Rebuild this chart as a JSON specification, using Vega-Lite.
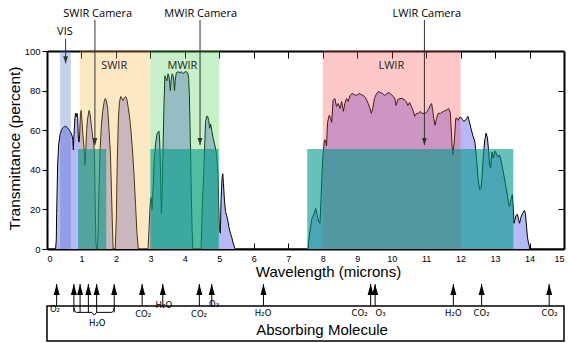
{
  "$schema": "https://vega.github.io/schema/vega-lite/v6.json",
  "autosize": {"type": "none"},
  "padding": {"left": 47, "top": 51, "right": 4, "bottom": 94},
  "width": 517,
  "height": 198,
  "background": "white",
  "config": {
    "view": {"stroke": null},
    "axis": {"domainColor": "black", "tickColor": "black", "labelColor": "black", "titleColor": "black", "labelFont": "Liberation Sans", "titleFont": "Liberation Sans", "titleFontWeight": "normal", "grid": false}
  },
  "datasets": {
    "curve": [
      {"w":0,"t":0},{"w":0.25,"t":0},{"w":0.27,"t":5},{"w":0.28,"t":18},{"w":0.31,"t":43},{"w":0.34,"t":53},{"w":0.38,"t":58},{"w":0.43,"t":60.5},{"w":0.48,"t":61.5},{"w":0.53,"t":62},{"w":0.58,"t":61.5},{"w":0.65,"t":60},{"w":0.70,"t":58.5},{"w":0.73,"t":57},{"w":0.75,"t":55},{"w":0.765,"t":50},{"w":0.775,"t":55},{"w":0.79,"t":60},{"w":0.81,"t":66},{"w":0.83,"t":68.5},{"w":0.85,"t":67},{"w":0.87,"t":68.5},{"w":0.89,"t":66},{"w":0.91,"t":56},{"w":0.93,"t":54},{"w":0.95,"t":58},{"w":0.97,"t":68},{"w":0.99,"t":70},{"w":1.01,"t":66},{"w":1.04,"t":58},{"w":1.07,"t":52},{"w":1.10,"t":42.5},{"w":1.12,"t":48},{"w":1.15,"t":60},{"w":1.18,"t":66},{"w":1.22,"t":70},{"w":1.25,"t":68},{"w":1.29,"t":62},{"w":1.33,"t":56},{"w":1.36,"t":53},{"w":1.38,"t":45},{"w":1.40,"t":20},{"w":1.42,"t":3},{"w":1.44,"t":0},{"w":1.46,"t":0},{"w":1.48,"t":6},{"w":1.50,"t":25},{"w":1.54,"t":50},{"w":1.58,"t":63},{"w":1.62,"t":70},{"w":1.66,"t":74.5},{"w":1.69,"t":76},{"w":1.72,"t":75},{"w":1.76,"t":71},{"w":1.80,"t":60},{"w":1.84,"t":48},{"w":1.87,"t":30},{"w":1.90,"t":10},{"w":1.92,"t":0},{"w":1.98,"t":0},{"w":2.01,"t":15},{"w":2.04,"t":45},{"w":2.07,"t":65},{"w":2.10,"t":74},{"w":2.14,"t":77},{"w":2.18,"t":76},{"w":2.21,"t":75},{"w":2.25,"t":76.5},{"w":2.28,"t":77},{"w":2.32,"t":75.5},{"w":2.36,"t":71},{"w":2.40,"t":66},{"w":2.44,"t":59},{"w":2.48,"t":50},{"w":2.53,"t":36},{"w":2.57,"t":22},{"w":2.61,"t":8},{"w":2.65,"t":0},{"w":2.93,"t":0},{"w":2.96,"t":10},{"w":2.99,"t":22},{"w":3.02,"t":26},{"w":3.05,"t":20},{"w":3.08,"t":32},{"w":3.11,"t":44},{"w":3.15,"t":53},{"w":3.19,"t":58},{"w":3.22,"t":59},{"w":3.25,"t":59.5},{"w":3.27,"t":54},{"w":3.29,"t":42},{"w":3.31,"t":25},{"w":3.32,"t":18},{"w":3.34,"t":28},{"w":3.36,"t":45},{"w":3.39,"t":70},{"w":3.42,"t":87.5},{"w":3.45,"t":86},{"w":3.48,"t":85},{"w":3.51,"t":88.5},{"w":3.54,"t":87},{"w":3.56,"t":84},{"w":3.58,"t":80},{"w":3.60,"t":85},{"w":3.63,"t":88.5},{"w":3.67,"t":87},{"w":3.70,"t":80},{"w":3.72,"t":85},{"w":3.75,"t":89},{"w":3.80,"t":89.5},{"w":3.85,"t":89},{"w":3.90,"t":89.5},{"w":3.95,"t":88.5},{"w":4.00,"t":89.5},{"w":4.05,"t":89.5},{"w":4.09,"t":88.5},{"w":4.11,"t":86},{"w":4.13,"t":78},{"w":4.15,"t":62},{"w":4.17,"t":45},{"w":4.19,"t":25},{"w":4.21,"t":10},{"w":4.23,"t":0},{"w":4.47,"t":0},{"w":4.49,"t":12},{"w":4.51,"t":25},{"w":4.54,"t":34},{"w":4.57,"t":50},{"w":4.60,"t":64},{"w":4.63,"t":67},{"w":4.66,"t":67},{"w":4.69,"t":65},{"w":4.72,"t":61},{"w":4.75,"t":63},{"w":4.78,"t":60},{"w":4.82,"t":56},{"w":4.86,"t":53},{"w":4.90,"t":50},{"w":4.93,"t":46},{"w":4.96,"t":38},{"w":4.98,"t":22},{"w":5.00,"t":10},{"w":5.03,"t":8},{"w":5.05,"t":25},{"w":5.08,"t":36},{"w":5.10,"t":38},{"w":5.12,"t":33},{"w":5.15,"t":24},{"w":5.18,"t":19},{"w":5.21,"t":17},{"w":5.24,"t":15},{"w":5.28,"t":11},{"w":5.32,"t":8},{"w":5.36,"t":6},{"w":5.40,"t":3},{"w":5.44,"t":1},{"w":5.46,"t":0},{"w":7.57,"t":0},{"w":7.62,"t":8},{"w":7.68,"t":15},{"w":7.75,"t":18},{"w":7.80,"t":20.5},{"w":7.84,"t":17},{"w":7.88,"t":14},{"w":7.92,"t":13},{"w":7.95,"t":25},{"w":7.98,"t":38},{"w":8.01,"t":48},{"w":8.05,"t":55},{"w":8.08,"t":55},{"w":8.11,"t":52},{"w":8.14,"t":64},{"w":8.19,"t":67.5},{"w":8.23,"t":66},{"w":8.26,"t":64},{"w":8.30,"t":75},{"w":8.35,"t":76},{"w":8.40,"t":72},{"w":8.45,"t":73.5},{"w":8.50,"t":71},{"w":8.55,"t":74.5},{"w":8.60,"t":69.5},{"w":8.64,"t":73.5},{"w":8.69,"t":76},{"w":8.74,"t":74.5},{"w":8.79,"t":77.5},{"w":8.85,"t":78.5},{"w":8.92,"t":78},{"w":8.99,"t":77.5},{"w":9.05,"t":78.5},{"w":9.12,"t":78},{"w":9.18,"t":77.5},{"w":9.24,"t":76.5},{"w":9.28,"t":75},{"w":9.32,"t":73.5},{"w":9.37,"t":71},{"w":9.41,"t":68.5},{"w":9.45,"t":71},{"w":9.50,"t":76},{"w":9.55,"t":78},{"w":9.61,"t":79.5},{"w":9.68,"t":79},{"w":9.74,"t":78.5},{"w":9.80,"t":77.5},{"w":9.86,"t":78.5},{"w":9.92,"t":79},{"w":9.99,"t":78},{"w":10.05,"t":77},{"w":10.09,"t":76},{"w":10.13,"t":72.5},{"w":10.18,"t":75.5},{"w":10.24,"t":76},{"w":10.30,"t":76},{"w":10.36,"t":75.5},{"w":10.42,"t":74.5},{"w":10.47,"t":72.5},{"w":10.52,"t":74},{"w":10.57,"t":72},{"w":10.63,"t":69.5},{"w":10.67,"t":67},{"w":10.72,"t":68.5},{"w":10.78,"t":68.5},{"w":10.83,"t":69.5},{"w":10.88,"t":68.5},{"w":10.93,"t":68.5},{"w":10.98,"t":68.5},{"w":11.03,"t":69.5},{"w":11.08,"t":71},{"w":11.12,"t":72.5},{"w":11.16,"t":73.5},{"w":11.19,"t":70},{"w":11.22,"t":66},{"w":11.26,"t":62.5},{"w":11.30,"t":66},{"w":11.35,"t":68.5},{"w":11.42,"t":68.5},{"w":11.50,"t":69.5},{"w":11.58,"t":70},{"w":11.65,"t":71},{"w":11.70,"t":69},{"w":11.73,"t":60},{"w":11.75,"t":53},{"w":11.77,"t":47.5},{"w":11.79,"t":50},{"w":11.82,"t":55},{"w":11.86,"t":66},{"w":11.90,"t":66},{"w":11.93,"t":65},{"w":11.97,"t":66.5},{"w":12.01,"t":66.5},{"w":12.05,"t":65.5},{"w":12.09,"t":64.5},{"w":12.14,"t":65},{"w":12.18,"t":66},{"w":12.21,"t":67},{"w":12.25,"t":64.5},{"w":12.30,"t":61},{"w":12.36,"t":57},{"w":12.41,"t":54.5},{"w":12.44,"t":50},{"w":12.47,"t":44},{"w":12.51,"t":35},{"w":12.55,"t":30},{"w":12.59,"t":30.5},{"w":12.62,"t":36},{"w":12.66,"t":47},{"w":12.70,"t":55},{"w":12.74,"t":58.5},{"w":12.78,"t":56},{"w":12.81,"t":50},{"w":12.84,"t":42.5},{"w":12.87,"t":41},{"w":12.91,"t":49},{"w":12.95,"t":46},{"w":13.00,"t":49.5},{"w":13.04,"t":48},{"w":13.08,"t":46.5},{"w":13.13,"t":47.5},{"w":13.17,"t":45},{"w":13.21,"t":41.5},{"w":13.26,"t":37},{"w":13.30,"t":33},{"w":13.35,"t":28},{"w":13.39,"t":23},{"w":13.42,"t":21.5},{"w":13.46,"t":25},{"w":13.50,"t":27.5},{"w":13.53,"t":20},{"w":13.55,"t":13},{"w":13.58,"t":15},{"w":13.61,"t":17},{"w":13.65,"t":17.5},{"w":13.68,"t":15},{"w":13.71,"t":13},{"w":13.75,"t":16},{"w":13.80,"t":18},{"w":13.85,"t":19.5},{"w":13.88,"t":18},{"w":13.91,"t":12},{"w":13.94,"t":6},{"w":13.97,"t":3},{"w":14.01,"t":0},{"w":15,"t":0}
    ],
    "bands": [
      {"band": "VIS", "start": 0.38, "end": 0.69},
      {"band": "SWIR", "start": 0.95, "end": 3.0},
      {"band": "MWIR", "start": 3.0, "end": 5.0},
      {"band": "LWIR", "start": 8.0, "end": 12.0}
    ],
    "bandLabels": [
      {"label": "SWIR", "w": 1.95, "t": 92.4},
      {"label": "MWIR", "w": 3.93, "t": 92.4},
      {"label": "LWIR", "w": 9.99, "t": 92.4}
    ],
    "cameras": [
      {"camera": "SWIR Camera", "start": 0.9, "end": 1.72, "low": 0, "top": 50.5},
      {"camera": "MWIR Camera", "start": 3.0, "end": 4.98, "low": 0, "top": 50.5},
      {"camera": "LWIR Camera", "start": 7.55, "end": 13.53, "low": 0, "top": 50.5}
    ],
    "callouts": [
      {"label": "VIS", "tx": 0.52, "ty": 109.4, "ax": 0.54, "a0": 106.1, "a1": 93.8},
      {"label": "SWIR Camera", "tx": 1.47, "ty": 118.7, "ax": 1.39, "a0": 115.7, "a1": 52.5},
      {"label": "MWIR Camera", "tx": 4.46, "ty": 118.7, "ax": 4.44, "a0": 115.7, "a1": 52.5},
      {"label": "LWIR Camera", "tx": 11.02, "ty": 118.7, "ax": 10.95, "a0": 115.7, "a1": 52.5}
    ],
    "panel": [
      {"label": "Absorbing Molecule", "x0": 0, "x1": 15, "top": -28.8, "bottom": -46.5, "tx": 7.98, "ty": -40.9}
    ],
    "absorbers": [
      {"w": 0.28, "tip": -17.7, "base": -28.8},
      {"w": 0.78, "tip": -17.7, "base": -32.0},
      {"w": 0.96, "tip": -17.7, "base": -32.0},
      {"w": 1.20, "tip": -17.7, "base": -32.0},
      {"w": 1.44, "tip": -17.7, "base": -32.0},
      {"w": 1.95, "tip": -17.7, "base": -32.0},
      {"w": 2.76, "tip": -17.7, "base": -28.8},
      {"w": 3.36, "tip": -17.7, "base": -28.8},
      {"w": 4.42, "tip": -17.7, "base": -28.8},
      {"w": 4.78, "tip": -17.7, "base": -28.8},
      {"w": 6.28, "tip": -17.7, "base": -28.8},
      {"w": 9.39, "tip": -17.7, "base": -28.8},
      {"w": 9.52, "tip": -17.7, "base": -28.8},
      {"w": 11.79, "tip": -17.7, "base": -28.8},
      {"w": 12.61, "tip": -17.7, "base": -28.8},
      {"w": 14.57, "tip": -17.7, "base": -28.8}
    ],
    "brace": [
      {"i": 0, "w": 0.78, "t": -29.6},
      {"i": 1, "w": 0.80, "t": -31.3},
      {"i": 2, "w": 0.85, "t": -32.0},
      {"i": 3, "w": 1.30, "t": -32.0},
      {"i": 4, "w": 1.37, "t": -33.4},
      {"i": 5, "w": 1.44, "t": -32.0},
      {"i": 6, "w": 1.88, "t": -32.0},
      {"i": 7, "w": 1.93, "t": -31.3},
      {"i": 8, "w": 1.95, "t": -29.6}
    ],
    "molecules": [
      {"label": "O₂", "w": 0.23, "t": -30.3},
      {"label": "H₂O", "w": 1.46, "t": -37.5},
      {"label": "CO₂", "w": 2.79, "t": -32.8},
      {"label": "H₂O", "w": 3.39, "t": -28.5},
      {"label": "CO₂", "w": 4.41, "t": -32.8},
      {"label": "O₃", "w": 4.85, "t": -28.0},
      {"label": "H₂O", "w": 6.27, "t": -32.5},
      {"label": "CO₂", "w": 9.07, "t": -32.5},
      {"label": "O₃", "w": 9.68, "t": -32.5},
      {"label": "H₂O", "w": 11.79, "t": -32.5},
      {"label": "CO₂", "w": 12.61, "t": -32.5},
      {"label": "CO₂", "w": 14.58, "t": -32.5}
    ]
  },
  "layer": [
    {
      "data": {"name": "curve"},
      "mark": {"type": "area", "color": "#b8b8f6", "opacity": 1},
      "encoding": {
        "x": {"field": "w", "type": "quantitative", "scale": {"domain": [0, 15], "nice": false, "zero": false},
          "axis": {"orient": "bottom", "title": "Wavelength (microns)", "values": [0,1,2,3,4,5,6,7,8,9,10,11,12,13,14,15], "tickSize": -6, "tickWidth": 1, "domainWidth": 2, "labelPadding": 11, "labelFontSize": 9, "labelAngle": 0, "titleFontSize": 15, "titleX": 281, "titleY": 22.5, "titleBaseline": "middle"}},
        "y": {"field": "t", "type": "quantitative", "scale": {"domain": [0, 100], "nice": false},
          "axis": {"orient": "left", "title": "Transmittance (percent)", "values": [0,20,40,60,80,100], "tickSize": 5, "tickWidth": 1, "domainWidth": 2, "labelPadding": 2, "labelFontSize": 9.5, "titleFontSize": 15.5, "titleX": -33, "titleY": 97, "titleBaseline": "middle", "titleAlign": "center"}}
      }
    },
    {
      "data": {"name": "curve"},
      "mark": {"type": "line", "color": "black", "strokeWidth": 1},
      "encoding": {
        "x": {"field": "w", "type": "quantitative", "axis": {"orient": "top", "title": null, "labels": false, "values": [1,2,3,4,5,6,7,8,9,10,11,12,13,14], "tickSize": -7, "tickWidth": 1, "domainWidth": 2}},
        "y": {"field": "t", "type": "quantitative", "axis": {"orient": "right", "title": null, "labels": false, "values": [20,40,60,80], "tickSize": -6, "tickWidth": 1, "domainWidth": 2}}
      }
    },
    {
      "data": {"name": "bands"},
      "mark": {"type": "rect", "opacity": 0.3, "y": 0, "y2": {"expr": "height"}},
      "encoding": {
        "x": {"field": "start", "type": "quantitative", "axis": null},
        "x2": {"field": "end"},
        "color": {"field": "band", "type": "nominal", "scale": {"domain": ["VIS", "SWIR", "MWIR", "LWIR"], "range": ["#3e62b9", "#f8b23a", "#48cd48", "#ff4848"]}, "legend": null}
      }
    },
    {
      "data": {"name": "cameras"},
      "mark": {"type": "rect", "color": "#009988", "opacity": 0.6},
      "encoding": {
        "x": {"field": "start", "type": "quantitative", "axis": null},
        "x2": {"field": "end"},
        "y": {"field": "low", "type": "quantitative", "axis": null},
        "y2": {"field": "top"}
      }
    },
    {
      "data": {"name": "bandLabels"},
      "mark": {"type": "text", "font": "Open Sans", "fontSize": 11, "color": "#222", "align": "center", "baseline": "middle"},
      "encoding": {
        "x": {"field": "w", "type": "quantitative", "axis": null},
        "y": {"field": "t", "type": "quantitative", "axis": null},
        "text": {"field": "label"}
      }
    },
    {
      "data": {"name": "callouts"},
      "mark": {"type": "rule", "color": "#333", "strokeWidth": 1},
      "encoding": {
        "x": {"field": "ax", "type": "quantitative", "axis": null},
        "y": {"field": "a0", "type": "quantitative", "axis": null},
        "y2": {"field": "a1"}
      }
    },
    {
      "data": {"name": "callouts"},
      "mark": {"type": "point", "shape": "M0,0L-0.7,-2L0.7,-2Z", "size": 49, "filled": true, "color": "#333", "opacity": 1},
      "encoding": {
        "x": {"field": "ax", "type": "quantitative", "axis": null},
        "y": {"field": "a1", "type": "quantitative", "axis": null}
      }
    },
    {
      "data": {"name": "callouts"},
      "mark": {"type": "text", "font": "Open Sans", "fontSize": 11, "color": "black", "align": "center", "baseline": "middle"},
      "encoding": {
        "x": {"field": "tx", "type": "quantitative", "axis": null},
        "y": {"field": "ty", "type": "quantitative", "axis": null},
        "text": {"field": "label"}
      }
    },
    {
      "data": {"name": "panel"},
      "mark": {"type": "rect", "filled": false, "stroke": "black", "strokeWidth": 1.5},
      "encoding": {
        "x": {"field": "x0", "type": "quantitative", "axis": null},
        "x2": {"field": "x1"},
        "y": {"field": "top", "type": "quantitative", "axis": null},
        "y2": {"field": "bottom"}
      }
    },
    {
      "data": {"name": "absorbers"},
      "mark": {"type": "rule", "color": "black", "strokeWidth": 1},
      "encoding": {
        "x": {"field": "w", "type": "quantitative", "axis": null},
        "y": {"field": "tip", "type": "quantitative", "axis": null},
        "y2": {"field": "base"}
      }
    },
    {
      "data": {"name": "absorbers"},
      "mark": {"type": "point", "shape": "M0,0L-0.55,2L0.55,2Z", "size": 121, "filled": true, "color": "black", "opacity": 1},
      "encoding": {
        "x": {"field": "w", "type": "quantitative", "axis": null},
        "y": {"field": "tip", "type": "quantitative", "axis": null}
      }
    },
    {
      "data": {"name": "brace"},
      "mark": {"type": "line", "color": "black", "strokeWidth": 1},
      "encoding": {
        "x": {"field": "w", "type": "quantitative", "axis": null},
        "y": {"field": "t", "type": "quantitative", "axis": null},
        "order": {"field": "i"}
      }
    },
    {
      "data": {"name": "molecules"},
      "mark": {"type": "text", "font": "DejaVu Sans", "fontSize": 8.5, "color": "black", "align": "center", "baseline": "middle"},
      "encoding": {
        "x": {"field": "w", "type": "quantitative", "axis": null},
        "y": {"field": "t", "type": "quantitative", "axis": null},
        "text": {"field": "label"}
      }
    },
    {
      "data": {"name": "panel"},
      "mark": {"type": "text", "font": "Liberation Sans", "fontSize": 15, "color": "black", "align": "center", "baseline": "middle"},
      "encoding": {
        "x": {"field": "tx", "type": "quantitative", "axis": null},
        "y": {"field": "ty", "type": "quantitative", "axis": null},
        "text": {"field": "label"}
      }
    }
  ],
  "resolve": {"axis": {"x": "independent", "y": "independent"}}
}
